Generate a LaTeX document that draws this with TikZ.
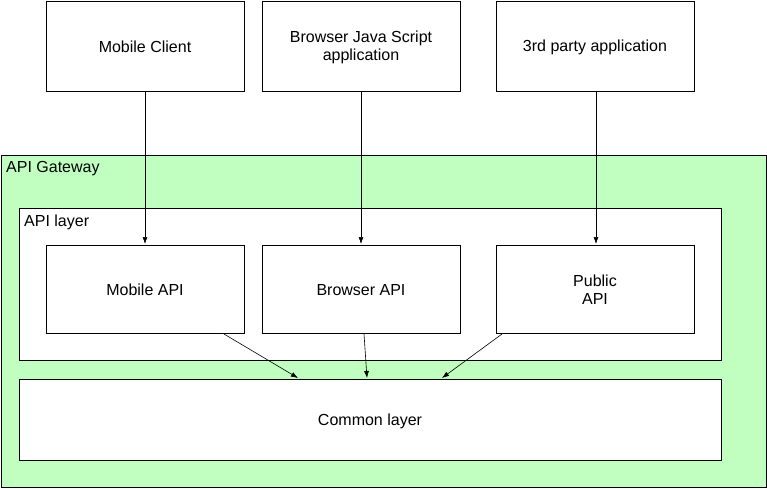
\documentclass[tikz,border=0pt]{standalone}
\usepackage{fontspec}
\setmainfont{Liberation Sans}
\usetikzlibrary{arrows.meta}
\begin{document}
\begin{tikzpicture}[x=1pt,y=-1pt,
  box/.style={draw=black,fill=white,line width=0.8pt},
  lbl/.style={font=\fontsize{16}{18}\selectfont,align=center},
  arr/.style={-{Latex[length=7pt,width=5pt]},line width=0.6pt}]
\useasboundingbox (0,0) rectangle (767,488);
\fill[white] (0,0) rectangle (767,488);
% gateway
\draw[line width=0.8pt,fill={rgb,255:red,192;green,255;blue,192}] (1,155) rectangle (766,487);
\node[lbl,anchor=north west,inner sep=0pt] (gw) at (6,161) {API Gateway};
\draw[box] (19,208) rectangle (721,360);
\node[lbl,anchor=north west,inner sep=0pt] (al) at (24,215) {API layer};
% clients
\draw[box] (46,1) rectangle (244,91); \node[lbl] (mc) at (145,47) {Mobile Client};
\draw[box] (262,1) rectangle (460,91); \node[lbl] (bj) at (361,47) {Browser Java Script\\application};
\draw[box] (496,1) rectangle (694,91); \node[lbl] (tp) at (595,47) {3rd party application};
% apis
\draw[box] (46,245) rectangle (244,333); \node[lbl] (ma) at (145,290) {Mobile API};
\draw[box] (262,245) rectangle (460,333); \node[lbl] (ba) at (361,290) {Browser API};
\draw[box] (496,245) rectangle (694,333); \node[lbl] (pa) at (595,290) {Public\\API};
\draw[box] (19,379) rectangle (721,460); \node[lbl] (cl) at (370,421) {Common layer};
% coordinates
\coordinate (mcb) at (145,91); \coordinate (mat) at (145,244);
\coordinate (bjb) at (361,91); \coordinate (bat) at (361,244);
\coordinate (tpb) at (596,91); \coordinate (pat) at (596,244);
\coordinate (m1) at (224,334); \coordinate (c1) at (298,378);
\coordinate (m2) at (364,334); \coordinate (c2) at (367,378);
\coordinate (m3) at (502,334); \coordinate (c3) at (442,378);
\draw[arr] (mcb) -- (mat);
\draw[arr] (bjb) -- (bat);
\draw[arr] (tpb) -- (pat);
\draw[arr] (m1) -- (c1);
\draw[arr] (m2) -- (c2);
\draw[arr] (m3) -- (c3);
\end{tikzpicture}
\end{document}
